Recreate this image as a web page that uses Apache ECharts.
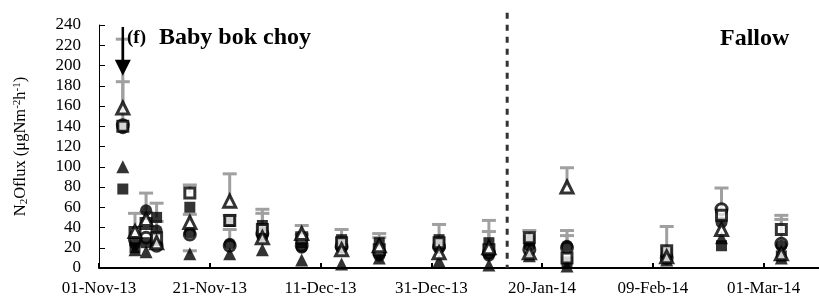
<!DOCTYPE html>
<html>
<head>
<meta charset="utf-8">
<script src="https://cdn.jsdelivr.net/npm/echarts@6/dist/echarts.min.js"></script>
<style>
html, body { margin: 0; padding: 0; background: #fff; }
#chart { width: 819px; height: 300px; }
</style>
</head>
<body>
<div id="chart"></div>
<script>
// sampling days, counted from 01-Nov-13
const days = [4.3, 6.5, 8.5, 10.4, 16.4, 23.6, 29.5, 36.6, 43.8, 50.6, 61.4, 70.4, 77.7, 84.5, 102.5, 112.4, 123.2];

// N2O flux per treatment (ug N m-2 h-1)
const filledSquare = [78, 20, 25, 50, 60, 46, 42, 25, 28, 25, 28, 25, 27, 6, 15, 22, 12];
const openSquare = [140, 35, 44, 30, 74, 47, 38, 30, 25, 18, 25, 18, 30, 10, 17, 52, 38];
const filledCircle = [138, 24, 57, 37, 35, 24, 31, 20, 20, 12, 20, 12, 22, 22, 12, 45, 22];
const openCircle = [141, 28, 30, 22, 33, 22, 34, 22, 21, 15, 21, 15, 18, 20, 10, 58, 24];
const filledTriangle = [100, 18, 16, 28, 14, 14, 18, 8, 4, 10, 7, 3, 12, 2, 8, 30, 10];
const openTriangle = [158, 36, 48, 25, 45, 66, 30, 34, 18, 22, 15, 20, 15, 80, 11, 38, 14];

// upper standard error (null = no bar drawn)
const errFilledSquare = [null, null, null, 14, null, null, 16, null, 10, 9, 15, 22, null, null, null, null, null];
const errOpenSquare = [44, null, 11, null, 8, 5, 16, 3, null, null, null, null, 7, null, 24, null, 14];
const errFilledCircle = [null, null, 17, 9, null, 14, null, null, null, null, null, null, null, 15, null, null, null];
const errOpenCircle = [null, null, null, null, null, null, null, null, null, null, null, null, null, 12, null, 21, 24];
const errFilledTriangle = [null, null, null, null, 3, null, null, null, null, null, null, null, null, null, null, null, null];
const errOpenTriangle = [68, 18, null, null, 8, 27, null, 8, null, 8, null, 16, null, 19, null, null, null];

const fertilizerDay = 4.3;
const arrowFrom = 238;
const arrowTo = 190;
const fallowStartDay = 73.7;

const yTicks = { min: 0, max: 240, interval: 20 };
const months = ['Jan', 'Feb', 'Mar', 'Apr', 'May', 'Jun', 'Jul', 'Aug', 'Sep', 'Oct', 'Nov', 'Dec'];
const startDate = Date.UTC(2013, 10, 1);

function dayLabel(v) {
	const d = new Date(startDate + v * 86400000);
	const dd = String(d.getUTCDate()).padStart(2, '0');
	return dd + '-' + months[d.getUTCMonth()] + '-' + String(d.getUTCFullYear()).slice(2);
}

const serif = 'Liberation Serif';

function points(vals) {
	return days.map((d, i) => [d, vals[i]]);
}
function errs(vals, e) {
	const out = [];
	days.forEach((d, i) => {
		if (e[i] != null) out.push([d, vals[i], vals[i] + e[i]]);
	});
	return out;
}

function renderErr(params, api) {
	const p = api.coord([api.value(0), api.value(1)]);
	const t = api.coord([api.value(0), api.value(2)]);
	const hw = 7;
	const st = { stroke: '#a0a0a0', lineWidth: 3 };
	return {
		type: 'group',
		children: [
			{ type: 'line', shape: { x1: p[0], y1: p[1], x2: t[0], y2: t[1] }, style: st },
			{ type: 'line', shape: { x1: t[0] - hw, y1: t[1], x2: t[0] + hw, y2: t[1] }, style: st }
		]
	};
}

// drawing order: open circles at the back, filled marks in front
const sets = [
	{ name: 'open circle', vals: openCircle, err: errOpenCircle, symbol: 'circle', open: true, size: 11 },
	{ name: 'filled square', vals: filledSquare, err: errFilledSquare, symbol: 'rect', open: false, size: 11 },
	{ name: 'filled circle', vals: filledCircle, err: errFilledCircle, symbol: 'circle', open: false, size: 12 },
	{ name: 'filled triangle', vals: filledTriangle, err: errFilledTriangle, symbol: 'triangle', open: false, size: 13 },
	{ name: 'open square', vals: openSquare, err: errOpenSquare, symbol: 'rect', open: true, size: 10 },
	{ name: 'open triangle', vals: openTriangle, err: errOpenTriangle, symbol: 'triangle', open: true, size: 12 }
];

const series = [];
sets.forEach(s => {
	series.push({
		type: 'custom',
		name: s.name + ' err',
		renderItem: renderErr,
		data: errs(s.vals, s.err),
		z: 1,
		silent: true
	});
});
sets.forEach((s, i) => {
	series.push({
		type: 'scatter',
		name: s.name,
		data: points(s.vals),
		symbol: s.symbol,
		symbolSize: s.size,
		z: 3 + i,
		itemStyle: s.open
			? { color: '#fff', borderColor: '#000', borderWidth: 3 }
			: { color: '#000' }
	});
});

const chart = echarts.init(document.getElementById('chart'));
chart.setOption({
	animation: false,
	backgroundColor: '#fff',
	grid: { left: 99, right: 0, top: 25, bottom: 32 },
	xAxis: {
		type: 'value',
		min: 0,
		max: 130,
		interval: 20,
		splitLine: { show: false },
		axisLine: { lineStyle: { color: '#000', width: 2 } },
		axisTick: { inside: true, length: 5, lineStyle: { color: '#000', width: 2 } },
		axisLabel: {
			showMaxLabel: false,
			margin: 12,
			color: '#000',
			fontFamily: serif,
			fontSize: 17,
			formatter: dayLabel
		}
	},
	yAxis: {
		type: 'value',
		min: yTicks.min,
		max: yTicks.max,
		interval: yTicks.interval,
		splitLine: { show: false },
		axisLine: { show: true, lineStyle: { color: '#000', width: 1 } },
		axisTick: { show: true, inside: true, length: 6, lineStyle: { color: '#000' } },
		axisLabel: { color: '#000', fontFamily: serif, fontSize: 17, margin: 18 },
		name: '{a|N}{s|2}{a|Oflux (μgNm}{p|-2}{a|h}{p|-1}{a|)}',
		nameLocation: 'middle',
		nameRotate: 90,
		nameGap: 69,
		nameTextStyle: {
			color: '#000',
			rich: {
				a: { fontFamily: serif, fontSize: 16.5, color: '#000' },
				s: { fontFamily: serif, fontSize: 11, color: '#000', verticalAlign: 'bottom', padding: [7, 0, 0, 0] },
				p: { fontFamily: serif, fontSize: 11, color: '#000', verticalAlign: 'top', padding: [0, 0, 7, 0] }
			}
		}
	},
	series: series
});

const arrowStart = chart.convertToPixel({ gridIndex: 0 }, [fertilizerDay, arrowFrom]);
const arrowTip = chart.convertToPixel({ gridIndex: 0 }, [fertilizerDay, arrowTo]);
const fallowTop = chart.convertToPixel({ gridIndex: 0 }, [fallowStartDay, 252]);
const fallowBot = chart.convertToPixel({ gridIndex: 0 }, [fallowStartDay, 0]);

chart.setOption({
	graphic: [
		{
			type: 'line',
			z: 20,
			shape: { x1: fallowTop[0], y1: fallowTop[1], x2: fallowBot[0], y2: fallowBot[1] },
			style: { stroke: '#333', lineWidth: 3, lineDash: [6, 6] }
		},
		{
			type: 'line',
			z: 20,
			shape: { x1: arrowStart[0], y1: arrowStart[1], x2: arrowTip[0], y2: arrowTip[1] - 12 },
			style: { stroke: '#000', lineWidth: 2.5 }
		},
		{
			type: 'polygon',
			z: 20,
			shape: { points: [[arrowTip[0] - 8, arrowTip[1] - 16], [arrowTip[0] + 8, arrowTip[1] - 16], [arrowTip[0], arrowTip[1]]] },
			style: { fill: '#000' }
		},
		{
			type: 'text',
			z: 20,
			left: 127,
			top: 29,
			style: { text: '(f)', font: 'bold 19px "Liberation Serif"', fill: '#000' }
		},
		{
			type: 'text',
			z: 20,
			left: 159,
			top: 26,
			style: { text: 'Baby bok choy', font: 'bold 24px "Liberation Serif"', fill: '#000' }
		},
		{
			type: 'text',
			z: 20,
			left: 720,
			top: 27,
			style: { text: 'Fallow', font: 'bold 24px "Liberation Serif"', fill: '#000' }
		}
	]
});
</script>
</body>
</html>
